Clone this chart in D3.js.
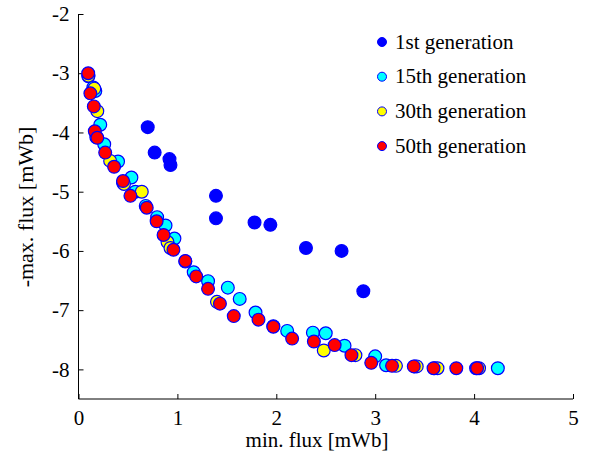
<!DOCTYPE html>
<html><head><meta charset="utf-8">
<script src="https://cdn.jsdelivr.net/npm/d3@7"></script>
<style>body{margin:0;background:#fff}svg{display:block}</style>
</head><body>
<script>
const seriesNames = ["1st generation","15th generation","30th generation","50th generation"];
const seriesColors = ["#0000ff","#00ffff","#ffff00","#ff0000"];
const xTicks = [0,1,2,3,4,5];
const yTicks = [-8,-7,-6,-5,-4,-3,-2];
const gen1 = [[0.70,-3.91],[0.77,-4.34],[0.92,-4.45],[0.93,-4.55],[1.39,-5.07],[1.39,-5.45],[1.78,-5.52],[1.94,-5.56],[2.30,-5.95],[2.66,-6.00],[2.88,-6.68]];
const gen15 = [[0.10,-3.05],[0.15,-3.24],[0.17,-3.30],[0.22,-3.87],[0.18,-4.08],[0.26,-4.20],[0.40,-4.49],[0.45,-4.85],[0.535,-4.76],[0.575,-5.00],[0.68,-5.24],[0.795,-5.43],[0.88,-5.57],[0.97,-5.79],[1.08,-6.18],[1.165,-6.36],[1.31,-6.51],[1.51,-6.62],[1.63,-6.81],[1.79,-7.04],[1.97,-7.27],[2.11,-7.35],[2.37,-7.38],[2.50,-7.39],[2.69,-7.60],[3.00,-7.78],[3.11,-7.93],[3.40,-7.95],[3.60,-7.98],[4.02,-7.98],[4.24,-7.98]];
const gen30 = [[0.10,-3.04],[0.16,-3.26],[0.19,-3.64],[0.32,-4.48],[0.46,-4.87],[0.64,-5.00],[0.90,-5.85],[0.93,-5.95],[1.40,-6.86],[2.48,-7.68],[2.80,-7.76],[3.21,-7.94],[3.42,-7.95],[3.63,-7.98],[4.05,-7.98]];
const gen50 = [[0.098,-3.00],[0.12,-3.34],[0.155,-3.56],[0.165,-3.98],[0.19,-4.09],[0.27,-4.34],[0.36,-4.58],[0.45,-4.82],[0.525,-5.07],[0.69,-5.27],[0.79,-5.50],[0.86,-5.73],[0.96,-5.98],[1.08,-6.17],[1.19,-6.43],[1.31,-6.64],[1.43,-6.89],[1.57,-7.10],[1.82,-7.16],[1.97,-7.28],[2.16,-7.48],[2.38,-7.53],[2.59,-7.59],[2.76,-7.76],[2.96,-7.89],[3.17,-7.94],[3.39,-7.95],[3.59,-7.98],[3.82,-7.98],[4.03,-7.98]];
const allSeries = [gen1, gen15, gen30, gen50];

const W = 594, H = 458;
const FONT = "'Liberation Serif'";
const FS = "21px";
const svg = d3.select("body").append("svg").attr("width", W).attr("height", H);
const x = d3.scaleLinear().domain([0,5]).range([78.5,573]);
const y = d3.scaleLinear().domain([-8.5,-2]).range([399,14]);

const gx = svg.append("g").attr("transform","translate(0,399)")
  .call(d3.axisBottom(x).tickValues(xTicks).tickSize(-5).tickPadding(11).tickFormat(d3.format("d")));
const gy = svg.append("g").attr("transform","translate(78.5,0)")
  .call(d3.axisLeft(y).tickValues(yTicks).tickSize(-5).tickPadding(9).tickFormat(d => d));
[gx, gy].forEach(g => {
  g.select(".domain").attr("stroke","#000").attr("stroke-width",1);
  g.selectAll(".tick line").attr("stroke","#000");
  g.selectAll(".tick text").style("font-family", FONT).style("font-size", FS).attr("fill","#000");
});
gx.select(".domain").attr("d", `M${x(0)},0H${x(5)}`);
gy.select(".domain").attr("d", `M0,${y(-8.5)}V${y(-2)}`);
gy.selectAll(".tick text").text(d => d < 0 ? "-" + Math.abs(d) : d);

allSeries.forEach((data, i) => {
  svg.append("g").selectAll("circle").data(data).join("circle")
    .attr("cx", d => x(d[0])).attr("cy", d => y(d[1])).attr("r", 6.4)
    .attr("fill", seriesColors[i]).attr("stroke", "#0000ff").attr("stroke-width", 1.2);
});

const leg = svg.append("g");
seriesNames.forEach((n, i) => {
  const yy = 42 + i * 34.7;
  leg.append("circle").attr("cx", 382).attr("cy", yy).attr("r", 4.5)
    .attr("fill", seriesColors[i]).attr("stroke", "#0000ff").attr("stroke-width", 1);
  leg.append("text").attr("x", 395).attr("y", yy + 6.5)
    .style("font-family", FONT).style("font-size", FS).attr("fill","#000").text(n);
});

svg.append("text").attr("x", 317).attr("y", 447).attr("text-anchor","middle")
  .style("font-family", FONT).style("font-size", FS).attr("fill","#000").text("min. flux [mWb]");
svg.append("text").attr("transform","translate(33,207) rotate(-90)").attr("text-anchor","middle")
  .style("font-family", FONT).style("font-size", "22px").attr("fill","#000").text("-max. flux [mWb]");
</script>
</body></html>
